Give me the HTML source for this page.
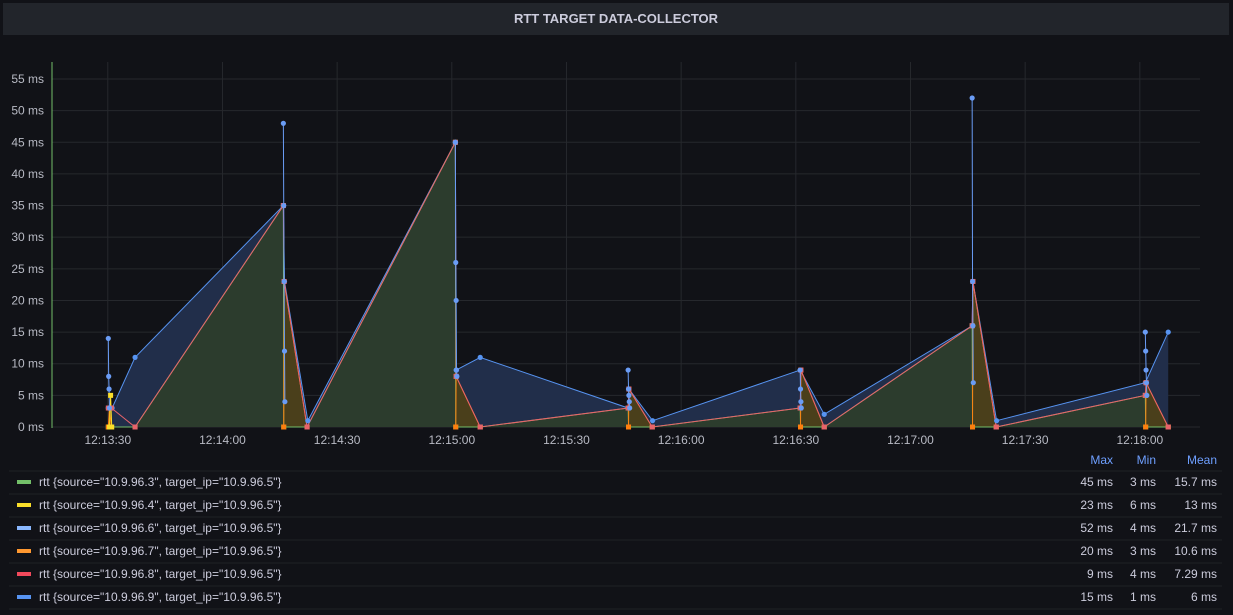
<!DOCTYPE html>
<html><head><meta charset="utf-8"><style>
html,body{margin:0;padding:0;background:#111217;}
svg{display:block;font-family:"Liberation Sans",sans-serif;}
</style></head><body>
<svg id="chart" width="1233" height="615" viewBox="0 0 1233 615">
<rect x="0" y="0" width="1233" height="615" fill="#111217"/>
<rect x="3" y="3" width="1226" height="32" fill="#22252b"/>
<text x="616" y="23" text-anchor="middle" font-size="13" font-weight="bold" fill="#ccccdc">RTT TARGET DATA-COLLECTOR</text>
<g id="grid"></g>
<line x1="52" y1="62" x2="52" y2="428" stroke="#73bf69" stroke-width="1"/>
<g id="fills"></g><g id="lines"></g><g id="pts"></g>
<g id="legend"></g>
</svg>
<script>
const yTicks=[0,5,10,15,20,25,30,35,40,45,50,55];
const xTickLabels=["12:13:30","12:14:00","12:14:30","12:15:00","12:15:30","12:16:00","12:16:30","12:17:00","12:17:30","12:18:00"];
const xTickSecs=[0,30,60,90,120,150,180,210,240,270];
const seriesNames=["10.9.96.3","10.9.96.4","10.9.96.6","10.9.96.7","10.9.96.8","10.9.96.9"];
const seriesColors=["#73bf69","#fade2a","#8ab8ff","#ff9830","#f2495c","#5794f2"];
const statMax=["45 ms","23 ms","52 ms","20 ms","9 ms","15 ms"];
const statMin=["3 ms","6 ms","4 ms","3 ms","4 ms","1 ms"];
const statMean=["15.7 ms","13 ms","21.7 ms","10.6 ms","7.29 ms","6 ms"];
// times in seconds since 12:13:30
const tBlue=[0,1,7,45.8,46.1,52.2,90.8,91,97.3,136,136.2,142.4,181,187.3,226,226.2,232.4,271.3,277.3];
const vBlue=[3,3,11,35,23,1,45,9,11,3,6,1,9,2,16,23,1,7,15];
const tRed=[0,0.8,7,45.8,46,52,90.8,91,97.3,136,136.2,142.3,181,181.2,187.3,226,226.2,232.3,271.3,271.5,277.3];
const vRed=[3,3,0,35,23,0,45,8,0,3,6,0,3,9,0,16,23,0,5,7,0];
const tGreen=[0,7,45.8,45.9,52,90.8,90.9,97.3,136,136.1,142.3,181,181.1,187.3,226,226.1,232.3,271.3,271.4,277.3];
const vGreen=[0,0,35,0,0,45,0,0,3,0,0,3,0,0,16,0,0,5,0,0];
const tOrange=[0,0.3,0.8,1,45.9,46,52,52.1,90.9,91,97.3,97.4,136.1,136.2,142.3,142.4,181.1,181.2,187.3,187.4,226.1,226.2,232.3,232.4,271.4,271.5,277.3];
const vOrange=[0,3,0,null,0,23,0,null,0,8,0,null,0,6,0,null,0,9,0,null,0,23,0,null,0,7,0];
const tYellow=[0.3,0.6,0.9];
const vYellow=[0,5,0];
const tLight=[0,0.1,0.2,0.3,0.4, 45.8,45.9,46,46.1,46.2,46.3, 90.8,90.9,91,91.1,91.2,91.3, 136,136.1,136.2,136.3,136.4,136.5, 181,181.1,181.2,181.3,181.4, 226,226.1,226.2,226.3,226.4, 271.3,271.4,271.5,271.6,271.7,271.8];
const vLight=[14,8,6,3,null, 48,35,23,12,4,null, 45,26,20,9,8,null, 9,6,5,4,3,null, 9,6,4,3,null, 52,23,16,7,null, 15,12,9,7,5,null];

const X0=108.3,PXS=114.67/30,Y0=427,PYM=348/55;
const sx=t=>X0+t*PXS, sy=v=>Y0-v*PYM;
const NS="http://www.w3.org/2000/svg";
function mk(tag,attrs,parent){const e=document.createElementNS(NS,tag);for(const k in attrs)e.setAttribute(k,attrs[k]);parent.appendChild(e);return e;}
const grid=document.getElementById('grid');
yTicks.forEach(v=>{
  const l=mk('line',{x1:52,x2:1200,y1:sy(v),y2:sy(v),stroke:'#26282d'},grid);
  
  
  const t=mk('text',{x:44,y:sy(v)+4,'text-anchor':'end','font-size':12,fill:'#b8bac4'},grid);
  t.textContent=v+' ms';
  
  
});
xTickSecs.forEach((s,i)=>{
  const l=mk('line',{x1:sx(s)-0.5,x2:sx(s)-0.5,y1:62,y2:427,stroke:'#26282d'},grid);
  
  
  const t=mk('text',{x:sx(s)-0.5,y:444,'text-anchor':'middle','font-size':12,fill:'#b8bac4'},grid);
  t.textContent=xTickLabels[i];
  
  
});
const fills=document.getElementById('fills'),lines=document.getElementById('lines'),pts=document.getElementById('pts');
function segs(ts,vs){const out=[];let cur=[];ts.forEach((t,i)=>{if(vs[i]==null){if(cur.length)out.push(cur);cur=[];}else cur.push([sx(t),sy(vs[i])]);});if(cur.length)out.push(cur);return out;}
function draw(ts,vs,col,name,fillCol,square,ptCol){
  segs(ts,vs).forEach(s=>{
    if(fillCol){
      const d='M'+s[0][0]+','+Y0+' '+s.map(p=>'L'+p[0]+','+p[1]).join(' ')+' L'+s[s.length-1][0]+','+Y0+'Z';
      const f=mk('path',{d:d,fill:fillCol,stroke:'none'},fills);
      
      
    }
    const l=mk('polyline',{points:s.map(p=>p.join(',')).join(' '),fill:'none',stroke:col,'stroke-width':1},lines);
    
    
    s.forEach(p=>{
      const pc=ptCol||col;
      const c=square?mk('rect',{x:p[0]-2.5,y:p[1]-2.5,width:5,height:5,fill:pc},pts):mk('circle',{cx:p[0],cy:p[1],r:2.6,fill:pc},pts);
      
      
    });
  });
}
draw(tBlue,vBlue,'#5794f2','series-10-9-96-9','#212e4a',false);
draw(tGreen,vGreen,'#73bf69','series-10-9-96-3','#2c3c2d',true);
draw(tOrange,vOrange,'#ff7f0e','series-10-9-96-7','#4a3f1b',true);
draw(tYellow,vYellow,'#fade2a','series-10-9-96-4',null,true);
draw(tRed,vRed,'#e8636a','series-10-9-96-8',null,true);
draw(tLight,vLight,'#6a9cf5','series-10-9-96-6',null,false);
const lg=document.getElementById('legend');
[['Max',1113],['Min',1156],['Mean',1217]].forEach(h=>{
  const t=mk('text',{x:h[1],y:464,'text-anchor':'end','font-size':12,fill:'#6e9fff'},lg);
  t.textContent=h[0];
  
  
});
seriesNames.forEach((n,i)=>{
  const y=482+i*23;
  const sep=mk('line',{x1:9,x2:1222,y1:y-11,y2:y-11,stroke:'#202226'},lg);
  
  
  const sw=mk('rect',{x:17,y:y-2,width:14,height:4,fill:seriesColors[i]},lg);
  
  
  const t=mk('text',{x:39,y:y+4,'font-size':12,fill:'#ccccdc'},lg);
  t.textContent='rtt {source="'+n+'", target_ip="10.9.96.5"}';
  
  
  [[statMax[i],1113],[statMin[i],1156],[statMean[i],1217]].forEach(c=>{
    const s=mk('text',{x:c[1],y:y+4,'text-anchor':'end','font-size':12,fill:'#ccccdc'},lg);
    s.textContent=c[0];
    
    
  });
});
const last=mk('line',{x1:9,x2:1222,y1:482+6*23-11,y2:482+6*23-11,stroke:'#202226'},lg);


</script>
</body></html>
